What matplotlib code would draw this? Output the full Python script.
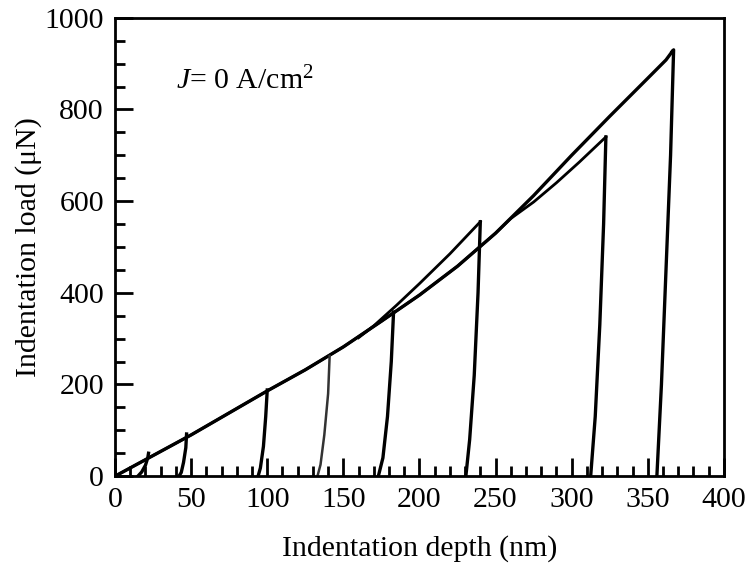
import matplotlib
matplotlib.use('Agg')
import matplotlib.pyplot as plt
from matplotlib.ticker import MultipleLocator

plt.rcParams['font.family'] = ['Liberation Serif', 'DejaVu Serif']
plt.rcParams['mathtext.fontset'] = 'custom'
plt.rcParams['mathtext.rm'] = 'Liberation Serif'
plt.rcParams['mathtext.it'] = 'Liberation Serif:italic'

# shared loading path (depth nm, load uN)
load_h = [0, 10, 25, 50, 75, 100, 125, 150, 175, 200, 225, 250, 275, 300, 325, 350, 362, 366]
load_p = [0, 18, 45, 90, 138, 186, 232, 282, 338, 395, 458, 530, 612, 700, 785, 868, 908, 926]

# 322 nm test departs below the main path at high load
h322_load = [260, 275, 290, 305, 322.5]
p322_load = [562, 598, 640, 685, 740]

# 243 nm test departs slightly above the main path
h243_load = [160, 170, 185, 200, 220, 240]
p243_load = [302, 328, 373, 420, 485, 555]

# unloading branches (peak -> residual)
unload = {
    370: ([366, 367, 365, 362, 359, 356], [926, 930, 700, 450, 200, 0]),
    322: ([322.5, 321, 318.5, 315.5, 312.5], [740, 550, 330, 130, 0]),
    243: ([240, 238.5, 236, 233, 230.5], [555, 400, 220, 80, 0]),
    185: ([183, 181.5, 179, 176, 173], [358, 250, 130, 40, 0]),
    143: ([141, 140, 137.5, 135, 133], [262, 180, 90, 25, 0]),
    100: ([100, 99, 97.5, 95.5, 94], [188, 130, 65, 18, 0]),
    50: ([47, 46.5, 45, 43.5, 42], [92, 62, 30, 8, 0]),
    25: ([22, 21.5, 20, 17.5, 15], [50, 40, 24, 9, 0]),
}

fig = plt.figure(figsize=(7.47, 5.73), dpi=100)
ax = fig.add_axes([0.154, 0.169, 0.815, 0.8])

lw = 2.4
# main loading curve (several overlapping tests)
ax.plot(load_h, load_p, color='black', lw=lw)
ax.plot([x for x in load_h if x < 260] + h322_load,
        [p for x, p in zip(load_h, load_p) if x < 260] + p322_load,
        color='black', lw=2.0)
ax.plot(h243_load, p243_load, color='black', lw=2.0)

for key, (hh, pp) in unload.items():
    w = 1.8 if key == 143 else lw
    c = '#333333' if key == 143 else 'black'
    ax.plot(hh, pp, color=c, lw=w)

ax.set_xlim(0, 400)
ax.set_ylim(0, 1000)
ax.xaxis.set_major_locator(MultipleLocator(50))
ax.xaxis.set_minor_locator(MultipleLocator(10))
ax.yaxis.set_major_locator(MultipleLocator(200))
ax.yaxis.set_minor_locator(MultipleLocator(50))
ax.tick_params(which='both', direction='in', top=False, right=False,
               labelsize=21.5, width=2)
ax.tick_params(which='major', length=13, pad=8)
ax.tick_params(which='minor', length=7)
for s in ax.spines.values():
    s.set_linewidth(2)

ax.set_xlabel('Indentation depth (nm)', fontsize=21.5, labelpad=16)
ax.set_ylabel('Indentation load (\u03bcN)', fontsize=21.5, labelpad=2)

ax.text(40, 862, r'$\mathit{J}$= 0 A/cm$^2$', fontsize=21.5, va='center')

fig.savefig('out.png', dpi=100)
